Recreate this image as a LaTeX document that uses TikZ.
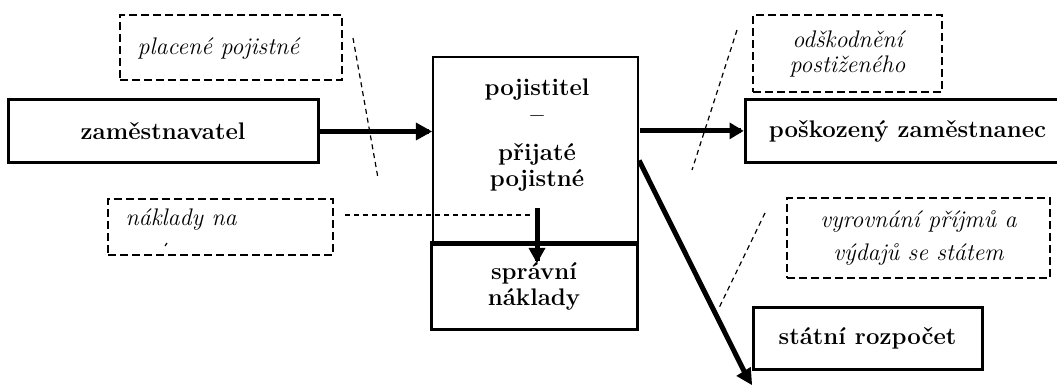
\documentclass[tikz,border=0pt]{standalone}
\usepackage{tikz}
\begin{document}
\begin{tikzpicture}[scale=0.17573]
\tikzstyle{every node}+=[inner sep=0pt]
\tikzstyle{box}=[draw=black, line width=1.5pt, align=center, font=\fontsize{12}{13}\selectfont\bfseries]
\tikzstyle{note}=[draw=black, line width=0.7pt, dash pattern=on 4pt off 2pt, align=center, font=\fontsize{12}{12.5}\selectfont\itshape]
\tikzstyle{lead}=[black, line width=0.6pt, dash pattern=on 2.5pt off 2pt]
\tikzstyle{flow}=[black, line width=2.5pt]
\useasboundingbox (0,0) rectangle (105.7,-38.7);
% boxes
\node [box, minimum width=155pt, minimum height=31.5pt] (zam) at (16.3,-13.15) {zaměstnavatel};
\node [box, line width=1.1pt, minimum width=102.5pt, minimum height=94pt] (poj) at (53.55,-15.1) {};
\node [box, draw=none, anchor=north] (pojtxt) at (53.7,-7.7) {pojistitel\\[0.5pt] --\\[6pt] přijaté\\ pojistné};
\node [box, minimum width=103pt, minimum height=43.5pt] (spr) at (53.4,-28.65) {správní\\ náklady};
\node [box, minimum width=162.5pt, minimum height=31.5pt] (pos) at (90.75,-13.15) {poškozený zaměstnanec};
\node [box, minimum width=114.5pt, minimum height=31.5pt] (sta) at (86.75,-33.85) {státní rozpočet};
% notes
\node [note, minimum width=111pt, minimum height=32.5pt] (plac) at (23.1,-4.75) {};
\node [note, draw=none, anchor=base west] (plactxt) at (13.7,-5.5) {placené pojistné};
\node [note, minimum width=112.5pt, minimum height=28pt] (nak) at (22.05,-22.7) {};
\node [note, draw=none, anchor=base west] (naktxt) at (12.5,-22.6) {náklady na};
\draw [black, line width=0.6pt] (16.5,-24.6) -- (16.7,-24.3);
\node [note, minimum width=94.5pt, minimum height=38.5pt] (ods) at (84.75,-5.35) {odškodnění\\ postiženého};
\node [note, minimum width=131.5pt, minimum height=40pt] (vyr) at (91.85,-23.8) {vyrovnání příjmů a\\[4pt] výdajů se státem};
% leader lines
\coordinate (l1a) at (35.3,-3.8);
\coordinate (l1b) at (37.8,-17.8);
\coordinate (l2a) at (34.5,-21.5);
\coordinate (l2b) at (53.3,-21.5);
\coordinate (l3a) at (73.7,-3.0);
\coordinate (l3b) at (69.2,-17.0);
\coordinate (l4a) at (76.5,-21.3);
\coordinate (l4b) at (71.8,-31.0);
\draw [lead] (l1a) -- (l1b);
\draw [lead] (l2a) -- (l2b);
\draw [lead] (l3a) -- (l3b);
\draw [lead] (l4a) -- (l4b);
% flows
\draw [flow] ([xshift=2.5pt]zam.east) -- ([xshift=-7pt]zam.east -| poj.west);
\fill [black] (zam.east -| poj.west) -- ++(-1.6,0.9) -- ++(0,-1.8) -- cycle;
\draw [flow] ([xshift=2pt,yshift=1.75pt]poj.east |- pos.west) -- ([xshift=-6pt,yshift=1.75pt]pos.west);
\fill [black] ([yshift=1.75pt]pos.west) -- ++(-1.4,0.85) -- ++(0,-1.7) -- cycle;
\coordinate (dtop) at (53.7,-20.8);
\coordinate (dtip) at (53.7,-26.3);
\draw [flow] (dtop) -- ([yshift=7pt]dtip);
\fill [black] (dtip) -- ++(-0.85,1.5) -- ++(1.7,0) -- cycle;
\coordinate (dstart) at ([yshift=-27pt]poj.east);
\coordinate (dend) at (75.2,-38.5);
\draw [flow] (dstart) -- (74.45,-37.2);
\fill [black] (dend) -- (75.07,-36.69) -- (73.63,-37.59) -- cycle;
\end{tikzpicture}
\end{document}
